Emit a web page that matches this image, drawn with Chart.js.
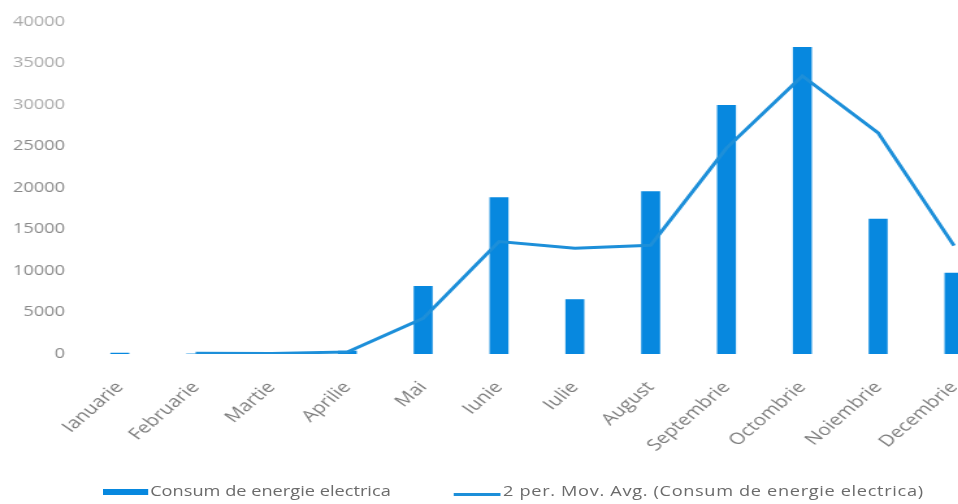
<!DOCTYPE html>
<html>
<head>
<meta charset="utf-8">
<script src="https://cdn.jsdelivr.net/npm/chart.js@4/dist/chart.umd.min.js"></script>
<style>
  html, body { margin: 0; padding: 0; background: #fff; overflow: hidden; width: 958px; height: 504px; }
  /* drawn narrow, then widened horizontally */
  #wrap { position: absolute; left: 0; top: 0; width: 780px; height: 504px; transform: scaleX(1.3); transform-origin: 0 0; }
  #consum { position: absolute; left: 0; top: 0; }
  .lg-box { position: absolute; }
  .lg-text { position: absolute; font: 14px/14px "Open Sans", sans-serif; color: #6b6b6b; white-space: nowrap; }
</style>
</head>
<body>
<div id="wrap">
  <canvas id="consum" width="780" height="504"></canvas>
  <div id="legend"></div>
</div>
<script>
const months = ["Ianuarie", "Februarie", "Martie", "Aprilie", "Mai", "Iunie", "Iulie",
  "August", "Septembrie", "Octombrie", "Noiembrie", "Decembrie"];
const consum = [150, 50, 100, 400, 8200, 18900, 6600, 19600, 30000, 37000, 16300, 9800];
const yTicks = [0, 5000, 10000, 15000, 20000, 25000, 30000, 35000, 40000];

const barLabel = "Consum de energie electrica";
const avgLabel = "2 per. Mov. Avg. (Consum de energie electrica)";

// 2 period moving average, first month has no value
const movAvg = consum.map((v, i) => i === 0 ? null : (consum[i - 1] + v) / 2);

Chart.defaults.font.family = "'Open Sans', sans-serif";
Chart.defaults.font.size = 14;

const ctx = document.getElementById("consum").getContext("2d");
const chart = new Chart(ctx, {
  data: {
    labels: months,
    datasets: [
      {
        type: "line",
        label: avgLabel,
        data: movAvg,
        borderColor: "#1d8fd9",
        borderWidth: 3,
        pointRadius: 0,
        tension: 0,
        order: 0
      },
      {
        type: "bar",
        label: barLabel,
        data: consum,
        backgroundColor: "#0788df",
        borderWidth: 0,
        barPercentage: 0.25,
        categoryPercentage: 1,
        order: 1
      }
    ]
  },
  options: {
    responsive: false,
    animation: false,
    devicePixelRatio: 1,
    layout: { padding: { left: 10, top: 22, right: 17, bottom: 0 } },
    plugins: {
      legend: { display: false },
      tooltip: { enabled: false }
    },
    scales: {
      x: {
        grid: { display: false, drawTicks: false },
        border: { display: false },
        ticks: {
          color: "#7c7c7c",
          font: { size: 16 },
          autoSkip: false,
          minRotation: 48,
          maxRotation: 48,
          padding: 24
        },
        afterFit: (scale) => {
          scale.height = 150;
          scale.paddingLeft = 0;
          scale.paddingRight = 0;
        }
      },
      y: {
        min: 0,
        max: 40000,
        grid: { display: false, drawTicks: false },
        border: { display: false },
        afterBuildTicks: (scale) => { scale.ticks = yTicks.map(v => ({ value: v })); },
        afterFit: (scale) => { scale.width = 53; },
        ticks: {
          color: (c) => c.tick && c.tick.value >= 30000 ? "#a9a9a9" : "#8a8a8a",
          padding: 13,
          callback: (v) => String(v)
        }
      }
    }
  }
});

// legend under the chart
const legend = document.getElementById("legend");
function addBox(left, top, w, h, color) {
  const el = document.createElement("div");
  el.className = "lg-box";
  el.style.cssText = `left:${left}px;top:${top}px;width:${w}px;height:${h}px;background:${color}`;
  legend.appendChild(el);
}
function addText(left, top, text, spacing) {
  const el = document.createElement("div");
  el.className = "lg-text";
  el.style.left = left + "px";
  el.style.top = top + "px";
  if (spacing) el.style.letterSpacing = spacing + "px";
  el.textContent = text;
  legend.appendChild(el);
}
const barSet = chart.data.datasets[1];
const lineSet = chart.data.datasets[0];
addBox(78.5, 489, 35.5, 6, barSet.backgroundColor);
addText(115.5, 483.5, barSet.label);
addBox(349, 492.5, 36, 3, lineSet.borderColor);
addText(387, 483.5, lineSet.label, 0.5);
</script>
</body>
</html>
